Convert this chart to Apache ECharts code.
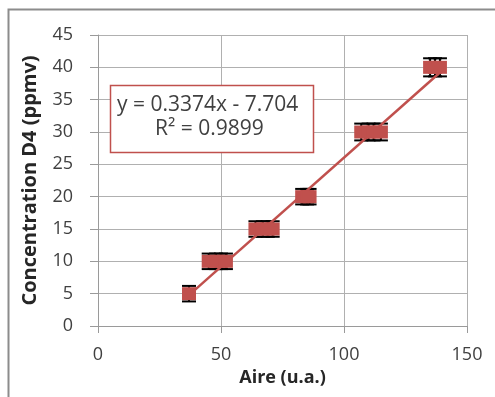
<!DOCTYPE html>
<html>
<head>
<meta charset="utf-8">
<script src="https://cdn.jsdelivr.net/npm/echarts@6/dist/echarts.min.js"></script>
<style>
  html, body { margin: 0; padding: 0; background: #fff; }
  #chart { width: 495px; height: 397px; }
</style>
</head>
<body>
<div id="chart"></div>
<script>
// measured points: area (u.a.) vs concentration (ppmv)
const aire = [37, 45, 48, 50, 52, 64, 67, 69, 71, 83, 85, 86, 107, 110, 112, 115, 135, 137, 139];
const conc = [5, 10, 10, 10, 10, 15, 15, 15, 15, 20, 20, 20, 30, 30, 30, 30, 40, 40, 40];
const errY = [1.2, 1.2, 1.2, 1.2, 1.2, 1.2, 1.2, 1.2, 1.2, 1.2, 1.2, 1.2, 1.3, 1.3, 1.3, 1.3, 1.4, 1.4, 1.4];

// linear trendline shown in the box
const slope = 0.3374;
const intercept = -7.704;
const xTicks = [0, 50, 100, 150];
const yTicks = [0, 5, 10, 15, 20, 25, 30, 35, 40, 45];

const red = '#C0504D';
const xMin = Math.min(...aire), xMax = Math.max(...aire);
const trend = [[xMin, slope * xMin + intercept], [xMax, slope * xMax + intercept]];

const chart = echarts.init(document.getElementById('chart'));
chart.setOption({
  animation: false,
  backgroundColor: '#fff',
  textStyle: { fontFamily: 'Open Sans' },
  graphic: [
    { type: 'rect', shape: { x: 8.5, y: 9.5, width: 520, height: 420 }, style: { fill: 'none', stroke: '#8c8c8c', lineWidth: 2 }, z: -1 },
    { type: 'rect', shape: { x: 110.5, y: 85.5, width: 203, height: 67 }, style: { fill: '#fff', stroke: '#C0504D', lineWidth: 1.5 }, z: 10 },
    { type: 'text', left: 117, top: 95, style: { text: 'y = 0.3374x - 7.704', font: '21px "Open Sans"', fill: '#404040' }, z: 11 },
    { type: 'text', left: 155, top: 119, style: { text: 'R² = 0.9899', font: '21px "Open Sans"', fill: '#404040' }, z: 11 }
  ],
  grid: { left: 98, right: 28, top: 35, bottom: 71 },
  xAxis: {
    type: 'value', min: xTicks[0], max: xTicks[xTicks.length - 1], interval: 50,
    name: 'Aire (u.a.)', nameLocation: 'middle', nameGap: 42,
    nameTextStyle: { fontSize: 18, fontWeight: 'bold', color: '#262626' },
    axisLine: { lineStyle: { color: '#9a9a9a' } },
    axisTick: { show: true, length: 7, lineStyle: { color: '#9a9a9a' } },
    axisLabel: { fontSize: 18, color: '#404040', margin: 20 },
    splitLine: { lineStyle: { color: '#b0b0b0' } }
  },
  yAxis: {
    type: 'value', min: yTicks[0], max: yTicks[yTicks.length - 1], interval: 5,
    name: 'Concentration D4 (ppmv)', nameLocation: 'middle', nameGap: 58,
    nameTextStyle: { fontSize: 20, fontWeight: 'bold', color: '#262626' },
    axisLine: { show: true, lineStyle: { color: '#9a9a9a' } },
    axisTick: { show: true, length: 8, lineStyle: { color: '#9a9a9a' } },
    axisLabel: { fontSize: 18, color: '#404040', margin: 25 },
    splitLine: { lineStyle: { color: '#b0b0b0' } }
  },
  series: [
    {
      type: 'custom', z: 2,
      data: aire.map((x, i) => [x, conc[i] - errY[i], conc[i] + errY[i]]),
      renderItem: (params, api) => {
        const lo = api.coord([api.value(0), api.value(1)]);
        const hi = api.coord([api.value(0), api.value(2)]);
        const w = 7;
        const st = { stroke: '#000', lineWidth: 2 };
        return { type: 'group', children: [
          { type: 'line', shape: { x1: lo[0], y1: lo[1], x2: hi[0], y2: hi[1] }, style: st },
          { type: 'line', shape: { x1: lo[0] - w, y1: lo[1], x2: lo[0] + w, y2: lo[1] }, style: st },
          { type: 'line', shape: { x1: hi[0] - w, y1: hi[1], x2: hi[0] + w, y2: hi[1] }, style: st }
        ] };
      }
    },
    {
      type: 'line', z: 3, data: trend, symbol: 'none',
      lineStyle: { color: red, width: 2.5 }
    },
    {
      type: 'scatter', z: 4, symbol: 'rect', symbolSize: [14, 13],
      data: aire.map((x, i) => [x, conc[i]]),
      itemStyle: { color: red, opacity: 1 }
    }
  ]
});
</script>
</body>
</html>
